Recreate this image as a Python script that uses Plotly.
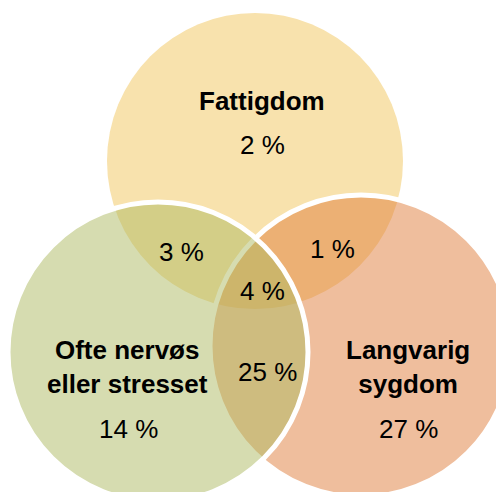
import plotly.graph_objects as go

# Venn data: three groups, the share only in each group, and the overlaps
groups = ["Fattigdom", "Ofte nervøs<br>eller stresset", "Langvarig<br>sygdom"]
only_pct = [2, 14, 27]
overlap_names = ["Fattigdom + nervøs", "Fattigdom + sygdom", "Nervøs + sygdom", "Alle tre"]
overlap_pct = [3, 1, 25, 4]

# circle geometry in pixel space (x right, y down)
circles = {
    "top": dict(cx=255, cy=161, r=148, color="#F8E2AD"),
    "left": dict(cx=158, cy=352, r=150, color="#ADB961"),
    "right": dict(cx=361, cy=346, r=151, color="#DF7D3B"),
}


def circle(c, fill, line_w=0, opacity=1.0):
    return dict(
        type="circle", xref="x", yref="y",
        x0=c["cx"] - c["r"], x1=c["cx"] + c["r"],
        y0=c["cy"] - c["r"], y1=c["cy"] + c["r"],
        fillcolor=fill, opacity=opacity,
        line=dict(color="white", width=line_w),
        layer="below",
    )


shapes = [
    circle(circles["top"], circles["top"]["color"]),
    circle(circles["right"], circles["right"]["color"], opacity=0.5),
    circle(circles["right"], "rgba(0,0,0,0)", line_w=5),
    circle(circles["left"], circles["left"]["color"], opacity=0.5),
    circle(circles["left"], "rgba(0,0,0,0)", line_w=5),
]

font = "Liberation Sans, Arial, sans-serif"
name_pos = [(262, 101), (127, 367), (408, 367)]
pct_pos = [(262, 145), (128, 429), (408, 429)]
overlap_pos = [(181, 252), (332, 249), (267, 372), (262, 291)]

annotations = []
for name, (x, y) in zip(groups, name_pos):
    annotations.append(dict(x=x, y=y, text="<b>" + name + "</b>", showarrow=False,
                            font=dict(family=font, size=26, color="black")))
for v, (x, y) in zip(only_pct, pct_pos):
    annotations.append(dict(x=x, y=y, text=f"{v} %", showarrow=False,
                            font=dict(family=font, size=26, color="black")))
for v, (x, y) in zip(overlap_pct, overlap_pos):
    annotations.append(dict(x=x, y=y, text=f"{v} %", showarrow=False,
                            font=dict(family=font, size=26, color="black")))

# the page body keeps an 8px margin all round, so the figure fills 504x500 minus that
off = 8
fig = go.Figure()
fig.update_layout(
    width=504 - 2 * off, height=500 - 2 * off,
    margin=dict(l=0, r=0, t=0, b=0),
    paper_bgcolor="white", plot_bgcolor="white",
    xaxis=dict(range=[off, 504 - off], visible=False, fixedrange=True),
    yaxis=dict(range=[500 - off, off], visible=False, fixedrange=True),
    shapes=shapes,
    annotations=annotations,
    showlegend=False,
)

fig.write_html("out.html")
